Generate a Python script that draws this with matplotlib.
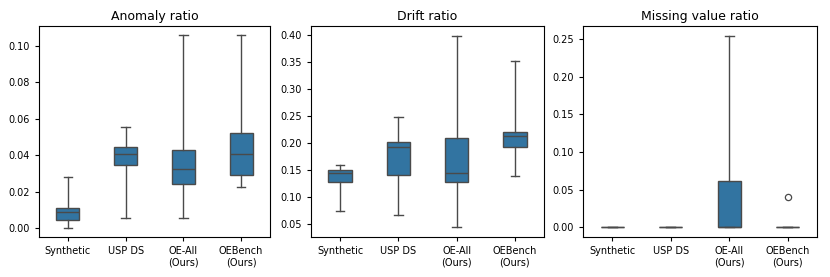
import matplotlib
matplotlib.use("Agg")
import matplotlib.pyplot as plt

categories = ["Synthetic", "USP DS", "OE-All\n(Ours)", "OEBench\n(Ours)"]

# five-number summaries: whisker_low, q1, median, q3, whisker_high
anomaly_lo  = [0.0000, 0.0054, 0.0054, 0.0223]
anomaly_q1  = [0.0044, 0.0347, 0.0244, 0.0292]
anomaly_med = [0.0085, 0.0408, 0.0323, 0.0404]
anomaly_q3  = [0.0110, 0.0445, 0.0426, 0.0520]
anomaly_hi  = [0.0282, 0.0552, 0.1061, 0.1061]
anomaly_out = [[], [], [], []]

drift_lo  = [0.0748, 0.0667, 0.0438, 0.1398]
drift_q1  = [0.1280, 0.1400, 0.1280, 0.1918]
drift_med = [0.1440, 0.1936, 0.1453, 0.2122]
drift_q3  = [0.1497, 0.2017, 0.2085, 0.2209]
drift_hi  = [0.1596, 0.2475, 0.3990, 0.3520]
drift_out = [[], [], [], []]

missing_lo  = [0.0, 0.0, 0.0, 0.0]
missing_q1  = [0.0, 0.0, 0.0, 0.0]
missing_med = [0.0, 0.0, 0.0005, 0.0]
missing_q3  = [0.0, 0.0, 0.0612, 0.0]
missing_hi  = [0.0, 0.0, 0.2544, 0.0]
missing_out = [[], [], [], [0.0403]]

titles = ["Anomaly ratio", "Drift ratio", "Missing value ratio"]
panels = [
    (anomaly_lo, anomaly_q1, anomaly_med, anomaly_q3, anomaly_hi, anomaly_out),
    (drift_lo, drift_q1, drift_med, drift_q3, drift_hi, drift_out),
    (missing_lo, missing_q1, missing_med, missing_q3, missing_hi, missing_out),
]

face = "#3274a1"
edge = "#4a4a4a"
lw = 1.0

fig = plt.figure(figsize=(8.3, 2.77), dpi=100)
positions = [(39, 270), (311, 544), (583, 817)]
W, H = 830, 277
top, bottom = 26, 237

for (l, r), title, (lo, q1, med, q3, hi, out) in zip(positions, titles, panels):
    ax = fig.add_axes([l / W, 1 - bottom / H, (r - l) / W, (bottom - top) / H])
    stats = []
    for i in range(len(categories)):
        stats.append(dict(whislo=lo[i], q1=q1[i], med=med[i], q3=q3[i],
                          whishi=hi[i], fliers=out[i], label=categories[i]))
    ax.bxp(stats, positions=range(len(categories)), widths=0.4,
           patch_artist=True, capwidths=0.15,
           boxprops=dict(facecolor=face, edgecolor=edge, linewidth=lw),
           medianprops=dict(color=edge, linewidth=lw),
           whiskerprops=dict(color=edge, linewidth=lw),
           capprops=dict(color=edge, linewidth=lw),
           flierprops=dict(marker="o", markerfacecolor="none",
                           markeredgecolor=edge, markersize=4.5, markeredgewidth=0.9))
    ax.set_xlim(-0.5, len(categories) - 0.5)
    ax.set_title(title, fontsize=9, pad=4)
    ax.tick_params(axis="both", labelsize=7, length=3)

fig.axes[0].set_yticks([0.00, 0.02, 0.04, 0.06, 0.08, 0.10])
fig.axes[0].set_ylim(-0.005, 0.111)
fig.axes[1].set_yticks([0.05, 0.10, 0.15, 0.20, 0.25, 0.30, 0.35, 0.40])
fig.axes[1].set_ylim(0.0262, 0.4166)
fig.axes[2].set_yticks([0.00, 0.05, 0.10, 0.15, 0.20, 0.25])
fig.axes[2].set_ylim(-0.0127, 0.2671)
for ax in fig.axes:
    ax.yaxis.set_major_formatter(matplotlib.ticker.FormatStrFormatter("%.2f"))

fig.savefig("out.png", dpi=100)
